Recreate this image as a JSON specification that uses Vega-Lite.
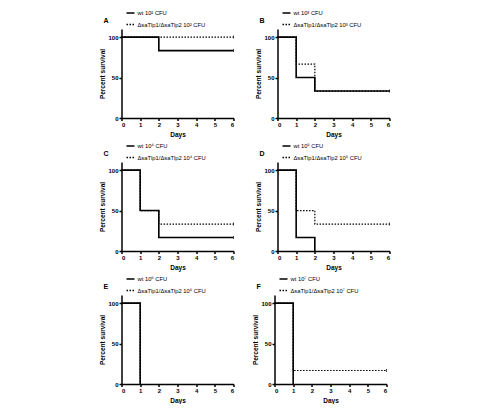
{
  "$schema": "https://vega.github.io/schema/vega-lite/v6.json",
  "background": "white",
  "padding": {"left": 99.5, "top": 8, "right": 5, "bottom": 0},
  "config": {
    "view": {"continuousWidth": 112, "continuousHeight": 89, "stroke": null},
    "mark": {"color": "black"},
    "font": "Liberation Sans",
    "axis": {"grid": false, "domainColor": "black", "domainWidth": 1.5, "tickColor": "black", "tickWidth": 1.5, "tickSize": 2.5, "labelFont": "Liberation Sans", "labelFontWeight": "bold", "labelFontSize": 6, "labelColor": "black", "labelPadding": 1, "titleFont": "Liberation Sans", "titleFontWeight": "bold", "titleFontSize": 6.5, "titleColor": "black", "titlePadding": 2},
    "axisX": {"titlePadding": 4},
    "legend": {"title": null, "symbolType": "stroke", "symbolSize": 64, "symbolStrokeWidth": 1.3, "symbolStrokeColor": "black", "labelFont": "Liberation Sans", "labelFontSize": 5.8, "labelColor": "black", "rowPadding": 3.5, "labelOffset": 2, "padding": 0},
    "title": {"font": "Liberation Sans", "fontSize": 7, "fontWeight": "bold", "anchor": "start", "frame": "group", "dx": -18, "color": "black", "offset": -16}
  },
  "resolve": {"scale": {"strokeDash": "independent"}, "legend": {"strokeDash": "independent"}},
  "spacing": 3,
  "vconcat": [
    {
      "spacing": 18,
      "resolve": {"scale": {"strokeDash": "independent"}, "legend": {"strokeDash": "independent"}},
      "hconcat": [
        {
          "title": {"text": "A"},
          "data": {"values": [
            {"g": "wt", "d": 0, "s": 100}, {"g": "wt", "d": 2, "s": 83.33}, {"g": "wt", "d": 6, "s": 83.33},
            {"g": "mut", "d": 0, "s": 100}, {"g": "mut", "d": 6, "s": 100}
          ]},
          "encoding": {
            "x": {"field": "d", "type": "quantitative", "scale": {"domain": [0, 6]}, "axis": {"title": "Days", "values": [0, 1, 2, 3, 4, 5, 6]}},
            "y": {"field": "s", "type": "quantitative", "scale": {"domain": [0, 110]}, "axis": {"title": "Percent survival", "values": [0, 50, 100]}},
            "strokeDash": {"field": "g", "type": "nominal", "scale": {"domain": ["wt", "mut"], "range": [[1, 0], [1.5, 1.5]]}, "legend": {"orient": "none", "legendX": 4, "legendY": -21, "labelExpr": "datum.label == 'wt' ? 'wt 10² CFU' : 'ΔsaTlp1/ΔsaTlp2 10² CFU'"}}
          },
          "layer": [
            {"transform": [{"filter": "datum.g == 'mut'"}], "mark": {"type": "line", "interpolate": "step-after", "strokeWidth": 1.2}},
            {"transform": [{"filter": "datum.g == 'wt'"}], "mark": {"type": "line", "interpolate": "step-after", "strokeWidth": 1.6}},
            {"transform": [{"filter": "datum.d == 6"}], "mark": {"type": "tick", "orient": "vertical", "size": 3, "thickness": 1}, "encoding": {"strokeDash": {"value": [1, 0]}}}
          ]
        },
        {
          "title": {"text": "B"},
          "data": {"values": [
            {"g": "wt", "d": 0, "s": 100}, {"g": "wt", "d": 1, "s": 50}, {"g": "wt", "d": 2, "s": 33.33}, {"g": "wt", "d": 6, "s": 33.33},
            {"g": "mut", "d": 0, "s": 100}, {"g": "mut", "d": 1, "s": 66.67}, {"g": "mut", "d": 2, "s": 33.33}, {"g": "mut", "d": 6, "s": 33.33}
          ]},
          "encoding": {
            "x": {"field": "d", "type": "quantitative", "scale": {"domain": [0, 6]}, "axis": {"title": "Days", "values": [0, 1, 2, 3, 4, 5, 6]}},
            "y": {"field": "s", "type": "quantitative", "scale": {"domain": [0, 110]}, "axis": {"title": "Percent survival", "values": [0, 50, 100]}},
            "strokeDash": {"field": "g", "type": "nominal", "scale": {"domain": ["wt", "mut"], "range": [[1, 0], [1.5, 1.5]]}, "legend": {"orient": "none", "legendX": 4, "legendY": -21, "labelExpr": "datum.label == 'wt' ? 'wt 10³ CFU' : 'ΔsaTlp1/ΔsaTlp2 10³ CFU'"}}
          },
          "layer": [
            {"transform": [{"filter": "datum.g == 'mut'"}], "mark": {"type": "line", "interpolate": "step-after", "strokeWidth": 1.2}},
            {"transform": [{"filter": "datum.g == 'wt'"}], "mark": {"type": "line", "interpolate": "step-after", "strokeWidth": 1.6}},
            {"transform": [{"filter": "datum.d == 6 && datum.g == 'wt'"}], "mark": {"type": "tick", "orient": "vertical", "size": 3, "thickness": 1}, "encoding": {"strokeDash": {"value": [1, 0]}}}
          ]
        }
      ]
    },
    {
      "spacing": 18,
      "resolve": {"scale": {"strokeDash": "independent"}, "legend": {"strokeDash": "independent"}},
      "hconcat": [
        {
          "title": {"text": "C"},
          "data": {"values": [
            {"g": "wt", "d": 0, "s": 100}, {"g": "wt", "d": 1, "s": 50}, {"g": "wt", "d": 2, "s": 16.67}, {"g": "wt", "d": 6, "s": 16.67},
            {"g": "mut", "d": 0, "s": 100}, {"g": "mut", "d": 1, "s": 50}, {"g": "mut", "d": 2, "s": 33.33}, {"g": "mut", "d": 6, "s": 33.33}
          ]},
          "encoding": {
            "x": {"field": "d", "type": "quantitative", "scale": {"domain": [0, 6]}, "axis": {"title": "Days", "values": [0, 1, 2, 3, 4, 5, 6]}},
            "y": {"field": "s", "type": "quantitative", "scale": {"domain": [0, 110]}, "axis": {"title": "Percent survival", "values": [0, 50, 100]}},
            "strokeDash": {"field": "g", "type": "nominal", "scale": {"domain": ["wt", "mut"], "range": [[1, 0], [1.5, 1.5]]}, "legend": {"orient": "none", "legendX": 4, "legendY": -21, "labelExpr": "datum.label == 'wt' ? 'wt 10⁴ CFU' : 'ΔsaTlp1/ΔsaTlp2 10⁴ CFU'"}}
          },
          "layer": [
            {"transform": [{"filter": "datum.g == 'mut'"}], "mark": {"type": "line", "interpolate": "step-after", "strokeWidth": 1.2}},
            {"transform": [{"filter": "datum.g == 'wt'"}], "mark": {"type": "line", "interpolate": "step-after", "strokeWidth": 1.6}},
            {"transform": [{"filter": "datum.d == 6"}], "mark": {"type": "tick", "orient": "vertical", "size": 3, "thickness": 1}, "encoding": {"strokeDash": {"value": [1, 0]}}}
          ]
        },
        {
          "title": {"text": "D"},
          "data": {"values": [
            {"g": "wt", "d": 0, "s": 100}, {"g": "wt", "d": 1, "s": 16.67}, {"g": "wt", "d": 2, "s": 0},
            {"g": "mut", "d": 0, "s": 100}, {"g": "mut", "d": 1, "s": 50}, {"g": "mut", "d": 2, "s": 33.33}, {"g": "mut", "d": 6, "s": 33.33}
          ]},
          "encoding": {
            "x": {"field": "d", "type": "quantitative", "scale": {"domain": [0, 6]}, "axis": {"title": "Days", "values": [0, 1, 2, 3, 4, 5, 6]}},
            "y": {"field": "s", "type": "quantitative", "scale": {"domain": [0, 110]}, "axis": {"title": "Percent survival", "values": [0, 50, 100]}},
            "strokeDash": {"field": "g", "type": "nominal", "scale": {"domain": ["wt", "mut"], "range": [[1, 0], [1.5, 1.5]]}, "legend": {"orient": "none", "legendX": 4, "legendY": -21, "labelExpr": "datum.label == 'wt' ? 'wt 10⁵ CFU' : 'ΔsaTlp1/ΔsaTlp2 10⁵ CFU'"}}
          },
          "layer": [
            {"transform": [{"filter": "datum.g == 'mut'"}], "mark": {"type": "line", "interpolate": "step-after", "strokeWidth": 1.2}},
            {"transform": [{"filter": "datum.g == 'wt'"}], "mark": {"type": "line", "interpolate": "step-after", "strokeWidth": 1.6}},
            {"transform": [{"filter": "datum.d == 6"}], "mark": {"type": "tick", "orient": "vertical", "size": 3, "thickness": 1}, "encoding": {"strokeDash": {"value": [1, 0]}}}
          ]
        }
      ]
    },
    {
      "spacing": 18,
      "resolve": {"scale": {"strokeDash": "independent"}, "legend": {"strokeDash": "independent"}},
      "hconcat": [
        {
          "title": {"text": "E"},
          "data": {"values": [
            {"g": "wt", "d": 0, "s": 100}, {"g": "wt", "d": 1, "s": 0},
            {"g": "mut", "d": 0, "s": 100}, {"g": "mut", "d": 1, "s": 0}
          ]},
          "encoding": {
            "x": {"field": "d", "type": "quantitative", "scale": {"domain": [0, 6]}, "axis": {"title": "Days", "values": [0, 1, 2, 3, 4, 5, 6]}},
            "y": {"field": "s", "type": "quantitative", "scale": {"domain": [0, 110]}, "axis": {"title": "Percent survival", "values": [0, 50, 100]}},
            "strokeDash": {"field": "g", "type": "nominal", "scale": {"domain": ["wt", "mut"], "range": [[1, 0], [1.5, 1.5]]}, "legend": {"orient": "none", "legendX": 4, "legendY": -21, "labelExpr": "datum.label == 'wt' ? 'wt 10⁶ CFU' : 'ΔsaTlp1/ΔsaTlp2 10⁶ CFU'"}}
          },
          "layer": [
            {"transform": [{"filter": "datum.g == 'mut'"}], "mark": {"type": "line", "interpolate": "step-after", "strokeWidth": 1.2}},
            {"transform": [{"filter": "datum.g == 'wt'"}], "mark": {"type": "line", "interpolate": "step-after", "strokeWidth": 1.6}}
          ]
        },
        {
          "title": {"text": "F"},
          "data": {"values": [
            {"g": "wt", "d": 0, "s": 100}, {"g": "wt", "d": 1, "s": 0},
            {"g": "mut", "d": 0, "s": 100}, {"g": "mut", "d": 1, "s": 16.67}, {"g": "mut", "d": 6, "s": 16.67}
          ]},
          "encoding": {
            "x": {"field": "d", "type": "quantitative", "scale": {"domain": [0, 6]}, "axis": {"title": "Days", "values": [0, 1, 2, 3, 4, 5, 6]}},
            "y": {"field": "s", "type": "quantitative", "scale": {"domain": [0, 110]}, "axis": {"title": "Percent survival", "values": [0, 50, 100]}},
            "strokeDash": {"field": "g", "type": "nominal", "scale": {"domain": ["wt", "mut"], "range": [[1, 0], [1.5, 1.5]]}, "legend": {"orient": "none", "legendX": 4, "legendY": -21, "labelExpr": "datum.label == 'wt' ? 'wt 10⁷ CFU' : 'ΔsaTlp1/ΔsaTlp2 10⁷ CFU'"}}
          },
          "layer": [
            {"transform": [{"filter": "datum.g == 'mut'"}], "mark": {"type": "line", "interpolate": "step-after", "strokeWidth": 1.2}},
            {"transform": [{"filter": "datum.g == 'wt'"}], "mark": {"type": "line", "interpolate": "step-after", "strokeWidth": 1.6}},
            {"transform": [{"filter": "datum.d == 6"}], "mark": {"type": "tick", "orient": "vertical", "size": 3, "thickness": 1}, "encoding": {"strokeDash": {"value": [1, 0]}}}
          ]
        }
      ]
    }
  ]
}
